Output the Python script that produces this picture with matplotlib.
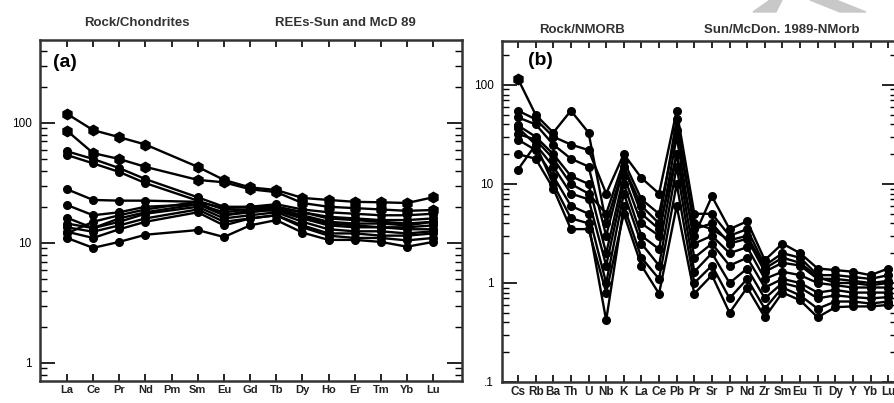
import numpy as np
import matplotlib.pyplot as plt
from matplotlib.ticker import LogLocator, NullFormatter, FixedLocator
from matplotlib.patches import Polygon

plt.rcParams['font.family'] = ['Liberation Sans', 'DejaVu Sans']

# REE pattern, chondrite normalised (Pm not analysed)
ree_labels = ["La", "Ce", "Pr", "Nd", "Pm", "Sm", "Eu", "Gd", "Tb", "Dy", "Ho", "Er", "Tm", "Yb", "Lu"]
ree_used = ["La", "Ce", "Pr", "Nd", "Sm", "Eu", "Gd", "Tb", "Dy", "Ho", "Er", "Tm", "Yb", "Lu"]
ree_samples = [
    [119, 87, 76, 66, 43, 33.5, 29, 27.6, 23.7, 22.8, 22, 21.8, 21.5, 24],
    [86, 56, 50, 43, 33.5, 32, 28, 26.5, 21.5, 20, 19.5, 19, 18.5, 18.8],
    [58, 50, 42, 34, 24, 20, 20, 21, 19, 18, 17.5, 17, 17, 17.5],
    [54, 46, 39, 31.5, 22.5, 19, 19, 20, 18, 16.5, 16, 15.5, 15.5, 16],
    [28, 22.8, 22.5, 22.5, 22, 17, 18.5, 19.5, 17, 15, 14.5, 14.5, 14, 15],
    [20.7, 17, 18, 20, 21, 18, 19, 18.5, 16, 14, 13.5, 13.5, 13.5, 14],
    [16.2, 13.3, 15, 17.5, 20, 16, 17, 18, 15, 13, 12.5, 12.5, 12, 12.5],
    [14.5, 13.3, 16, 18, 21, 17, 18, 19, 16.5, 14.5, 14, 13.5, 13, 13],
    [13.5, 12.4, 14, 16, 19, 15, 16, 17, 14, 12, 12, 11.5, 11.5, 12],
    [12.4, 11, 13, 15, 18, 14, 16, 17, 13.5, 11.5, 11, 11, 10.5, 11],
    [12, 15, 17, 19, 22, 19.5, 20, 20, 18, 16, 15.5, 15, 14.5, 15],
    [11, 9.1, 10.2, 11.7, 12.8, 11.2, 14, 15.5, 12.2, 10.6, 10.6, 10.2, 9.3, 10.2],
]

# spider diagram, N-MORB normalised
spider_labels = ["Cs", "Rb", "Ba", "Th", "U", "Nb", "K", "La", "Ce", "Pb", "Pr",
                 "Sr", "P", "Nd", "Zr", "Sm", "Eu", "Ti", "Dy", "Y", "Yb", "Lu"]
spider_samples = [
    [115, 50, 33, 55, 33, 4, 15, 5, 3.5, 20, 3, 7.5, 3.5, 4.2, 1.7, 2.5, 2.0, 1.4, 1.35, 1.3, 1.2, 1.4],
    [55, 45, 30, 25, 22, 8, 20, 11.5, 8, 55, 5, 5, 3, 3.5, 1.5, 2, 1.8, 1.2, 1.2, 1.15, 1.1, 1.2],
    [47, 40, 25, 18, 15, 3, 15, 6, 4, 45, 3.5, 4, 2.5, 2.8, 1.3, 1.6, 1.5, 1.1, 1.1, 1.05, 1.0, 1.05],
    [39, 30, 20, 12, 10, 2, 12, 4, 3, 30, 2.5, 3, 2, 2.3, 1.1, 1.3, 1.2, 1.0, 0.95, 0.9, 0.9, 0.9],
    [37, 25, 15, 8, 7, 1.5, 10, 3, 2.2, 20, 1.8, 2.5, 1.5, 1.8, 0.9, 1.1, 1.0, 0.8, 0.85, 0.8, 0.8, 0.8],
    [28, 22, 12, 6, 5, 1.0, 8, 2.5, 1.5, 15, 1.3, 2, 1.0, 1.4, 0.7, 1.0, 0.9, 0.7, 0.75, 0.72, 0.7, 0.72],
    [14, 25, 10, 4.5, 4, 0.42, 6, 1.8, 1.1, 10, 1.0, 1.5, 0.7, 1.1, 0.55, 0.9, 0.75, 0.55, 0.65, 0.65, 0.62, 0.65],
    [20, 18, 9, 3.5, 3.5, 0.8, 5, 1.5, 0.78, 6, 0.78, 1.2, 0.5, 0.9, 0.45, 0.8, 0.67, 0.45, 0.57, 0.58, 0.58, 0.6],
    [32, 28, 18, 10, 8, 5, 17, 7, 5, 35, 4, 3.5, 2.7, 3, 1.4, 1.8, 1.6, 1.15, 1.0, 1.0, 0.95, 1.0],
]

fig = plt.figure(figsize=(8.94, 4.03), dpi=100)
ax1 = fig.add_axes([40 / 894, 1 - 381 / 403, 422 / 894, 341 / 403])
ax2 = fig.add_axes([502 / 894, 1 - 382 / 403, 395 / 894, 341 / 403])


def style_axis(ax, labels, tick_fs):
    ax.set_yscale("log")
    ax.set_xticks(range(len(labels)))
    ax.set_xticklabels(labels, fontsize=tick_fs, fontweight="bold", color="#222222")
    ax.yaxis.set_minor_locator(LogLocator(base=10, subs=np.arange(2, 10)))
    ax.yaxis.set_minor_formatter(NullFormatter())
    ax.tick_params(axis="both", which="both", direction="in", top=True, right=True)
    ax.tick_params(axis="x", length=5, width=1.2, pad=3)
    ax.tick_params(axis="y", which="major", length=11, width=1.2, labelsize=8.5, pad=6)
    ax.tick_params(axis="y", which="minor", length=5, width=1.0)
    for s in ax.spines.values():
        s.set_linewidth(1.8)
        s.set_color("#333333")


# panel (a)
pos = [ree_labels.index(e) for e in ree_used]
for i, vals in enumerate(ree_samples):
    big = i < 2
    ax1.plot(pos, vals, color="black", lw=1.7, marker="h" if big else "o",
             ms=7.5 if big else 5.5, mfc="black", mec="black")
style_axis(ax1, ree_labels, 8)
ax1.set_xlim(-1.03, 15.1)
ax1.set_ylim(0.708, 490)
ax1.yaxis.set_major_locator(FixedLocator([1, 10, 100]))
ax1.set_yticklabels(["1", "10", "100"])
ax1.text(0.03, 0.92, "(a)", transform=ax1.transAxes, fontsize=14, fontweight="bold")

# panel (b)
xs = np.arange(len(spider_labels))
for vals in spider_samples:
    ax2.plot(xs, vals, color="black", lw=1.7, marker="o", ms=5.5, mfc="black", mec="black")
ax2.plot(xs[0], spider_samples[0][0], marker="h", ms=7.5, color="black")
style_axis(ax2, spider_labels, 8.5)
ax2.set_xlim(-0.91, 21.5)
ax2.set_ylim(0.1, 278)
ax2.yaxis.set_major_locator(FixedLocator([0.1, 1, 10, 100]))
ax2.set_yticklabels([".1", "1", "10", "100"])
ax2.text(0.065, 0.93, "(b)", transform=ax2.transAxes, fontsize=14, fontweight="bold")

# headers above the panels
hdr = dict(fontsize=9.5, fontweight="bold", color="#333333", ha="center", va="center")
fig.text(137 / 894, 1 - 23 / 403, "Rock/Chondrites", **hdr)
fig.text(345 / 894, 1 - 23 / 403, "REEs-Sun and McD 89", **hdr)
fig.text(582 / 894, 1 - 30 / 403, "Rock/NMORB", **hdr)
fig.text(782 / 894, 1 - 30 / 403, "Sun/McDon. 1989-NMorb", **hdr)

# grey mark at the top edge of the page
for pts in ([(753, 12), (776, 12), (782, 0), (770, 0)],
            [(810, 0), (836, 0), (866, 12), (840, 12)]):
    fig.patches.append(Polygon([(x / 894, 1 - y / 403) for x, y in pts], closed=True,
                               transform=fig.transFigure, color="#c8c8c8", zorder=0))

fig.savefig("out.png", dpi=100)
